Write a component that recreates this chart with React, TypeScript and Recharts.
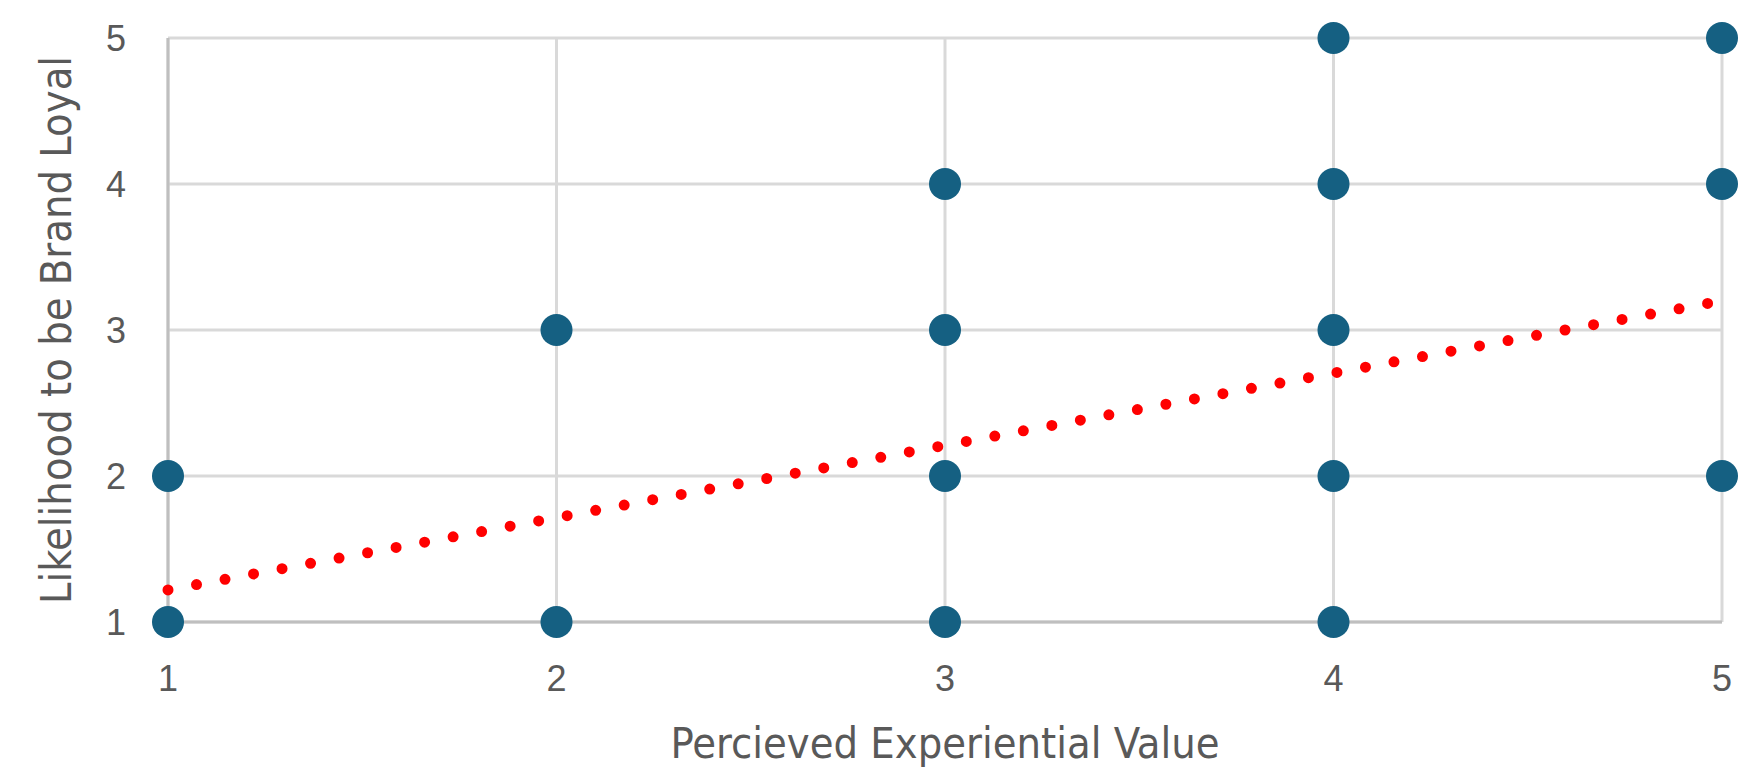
import { ScatterChart, Scatter, XAxis, YAxis, CartesianGrid, Label } from 'recharts'

// Survey responses (x = perceived value, y = loyalty)
const respX = [1, 1, 2, 2, 3, 3, 3, 3, 4, 4, 4, 4, 4, 5, 5, 5]
const respY = [1, 2, 1, 3, 1, 2, 3, 4, 1, 2, 3, 4, 5, 2, 4, 5]

// Linear trendline endpoints
const trendX = [1, 5]
const trendY = [1.22, 3.2]

const ticks = [1, 2, 3, 4, 5]

const points = respX.map((x, i) => ({ x, y: respY[i] }))
const trend = trendX.map((x, i) => ({ x, y: trendY[i] }))

const textColor = '#595959'
const tickFont = "'Liberation Sans', Arial, sans-serif"
const titleFont = "'Liberation Sans Narrow', 'DejaVu Sans Condensed', sans-serif"

const Dot = (props: any) => <circle cx={props.cx} cy={props.cy} r={16} fill="#156082" />

export default function App() {
  return (
    <div style={{ position: 'absolute', left: 0, top: 0, background: '#fff' }}>
      <ScatterChart width={1763} height={774} margin={{ top: 38, right: 41, left: 0, bottom: 0 }}>
        <CartesianGrid stroke="#d9d9d9" strokeWidth={3} />
        <XAxis
          type="number"
          dataKey="x"
          domain={[1, 5]}
          ticks={ticks}
          height={152}
          tickLine={false}
          tickSize={0}
          tickMargin={43}
          axisLine={{ stroke: '#bfbfbf', strokeWidth: 3 }}
          tick={{ fontSize: 36, fill: textColor, fontFamily: tickFont }}
        >
          <Label
            value="Percieved Experiential Value"
            position="insideBottom"
            offset={16}
            style={{ fontSize: 43, fill: textColor, fontFamily: titleFont }}
          />
        </XAxis>
        <YAxis
          type="number"
          dataKey="y"
          domain={[1, 5]}
          ticks={ticks}
          width={168}
          tickLine={false}
          tickSize={0}
          tickMargin={42}
          axisLine={{ stroke: '#bfbfbf', strokeWidth: 3 }}
          tick={{ fontSize: 36, fill: textColor, fontFamily: tickFont }}
        >
          <Label
            value="Likelihood to be Brand Loyal"
            angle={-90}
            position="insideLeft"
            offset={56}
            style={{ textAnchor: 'middle', fontSize: 43, fill: textColor, fontFamily: titleFont }}
          />
        </YAxis>
        <Scatter data={points} shape={Dot} isAnimationActive={false} />
        <Scatter
          data={trend}
          shape={() => <g />}
          line={{ stroke: '#ff0000', strokeWidth: 11, strokeDasharray: '0 29', strokeLinecap: 'round' }}
          isAnimationActive={false}
        />
      </ScatterChart>
    </div>
  )
}
